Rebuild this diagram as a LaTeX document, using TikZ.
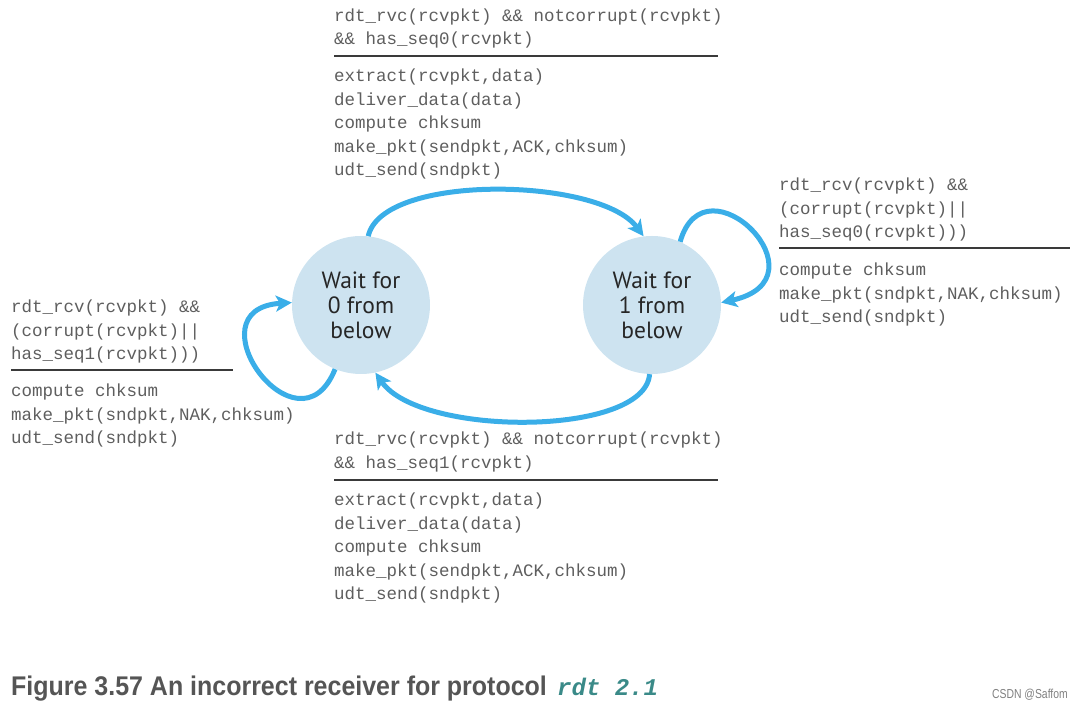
\documentclass[tikz,border=0pt]{standalone}
\usepackage{fontspec}
\setmainfont{Liberation Sans}
\setmonofont{Liberation Mono}
\newfontfamily\statefont{PT Sans}
\newfontfamily\capfont[FakeStretch=0.925]{Liberation Sans}
\newfontfamily\wmfont[FakeStretch=0.8]{Liberation Sans}
\usetikzlibrary{arrows.meta}
\definecolor{arrowblue}{HTML}{3AAEE8}
\definecolor{statefill}{HTML}{CDE3F0}
\definecolor{codegray}{HTML}{5E5E5E}
\definecolor{rulegray}{HTML}{3A3A3A}
\definecolor{capgray}{HTML}{555555}
\definecolor{capteal}{HTML}{3A8A88}
\begin{document}
\begin{tikzpicture}[x=1pt,y=1pt,
  state/.style={circle,fill=statefill,minimum size=138pt,inner sep=0pt,align=center,
    font=\statefont\fontsize{23.5}{25}\selectfont,text=black!85},
  code/.style={anchor=base west,inner sep=0pt,align=left,
    font=\ttfamily\fontsize{17.5}{23.5}\selectfont,text=codegray},
  bar/.style={draw=rulegray,line width=1.4pt},
  arr/.style={draw=arrowblue,line width=5pt,-{Stealth[length=16pt,width=16pt,inset=4pt]}},
]
\useasboundingbox (0,0) rectangle (1082,709);

\node[state] (L) at (361,404) {Wait for\\0 from\\below};
\node[state] (R) at (652,404) {Wait for\\1 from\\below};

% top transition (anchored at the baseline of the last line)
\node[code] (tc) at (334,664) {rdt\_rvc(rcvpkt) \&\& notcorrupt(rcvpkt)\\\&\& has\_seq0(rcvpkt)};
\coordinate (tr1) at (334,653); \coordinate (tr2) at (718,653);
\draw[bar] (tr1) -- (tr2);
\node[code] (ta) at (334,533) {extract(rcvpkt,data)\\deliver\_data(data)\\compute chksum\\make\_pkt(sendpkt,ACK,chksum)\\udt\_send(sndpkt)};

% right self loop
\node[code] (rc) at (779,471) {rdt\_rcv(rcvpkt) \&\&\\(corrupt(rcvpkt)||\\has\_seq0(rcvpkt)))};
\coordinate (rr1) at (779,461); \coordinate (rr2) at (1070,461);
\draw[bar] (rr1) -- (rr2);
\node[code] (ra) at (779,386) {compute chksum\\make\_pkt(sndpkt,NAK,chksum)\\udt\_send(sndpkt)};

% left self loop
\node[code] (lc) at (11,349) {rdt\_rcv(rcvpkt) \&\&\\(corrupt(rcvpkt)||\\has\_seq1(rcvpkt)))};
\coordinate (lr1) at (11,339); \coordinate (lr2) at (233,339);
\draw[bar] (lr1) -- (lr2);
\node[code] (la) at (11,265) {compute chksum\\make\_pkt(sndpkt,NAK,chksum)\\udt\_send(sndpkt)};

% bottom transition
\node[code] (bc) at (334,240.5) {rdt\_rvc(rcvpkt) \&\& notcorrupt(rcvpkt)\\\&\& has\_seq1(rcvpkt)};
\coordinate (br1) at (334,229); \coordinate (br2) at (718,229);
\draw[bar] (br1) -- (br2);
\node[code] (ba) at (334,109) {extract(rcvpkt,data)\\deliver\_data(data)\\compute chksum\\make\_pkt(sendpkt,ACK,chksum)\\udt\_send(sndpkt)};

% arrows
\draw[arr] (L.84) .. controls (382,536) and (600,532) .. (R.97);
\draw[arr] (R.-92) .. controls (645,272) and (420,272) .. (L.-78);
\draw[arr] (R.66) .. controls (705,555) and (830,430) .. (R.2);
\draw[arr] (L.-112) .. controls (298,248) and (188,400) .. (L.178);

% caption
\node[anchor=base west,inner sep=0pt,font=\capfont\bfseries\fontsize{27}{30}\selectfont,text=capgray] (cap) at (11,13) {Figure 3.57 An incorrect receiver for protocol};
\node[anchor=base west,inner sep=0pt,font=\ttfamily\bfseries\itshape\fontsize{24}{28}\selectfont,text=capteal] (capc) at (557,13) {rdt 2.1};
\node[anchor=base east,inner sep=0pt,font=\wmfont\fontsize{13}{14}\selectfont,text=gray] (wm) at (1068,10) {CSDN @Saffom};
\end{tikzpicture}
\end{document}
